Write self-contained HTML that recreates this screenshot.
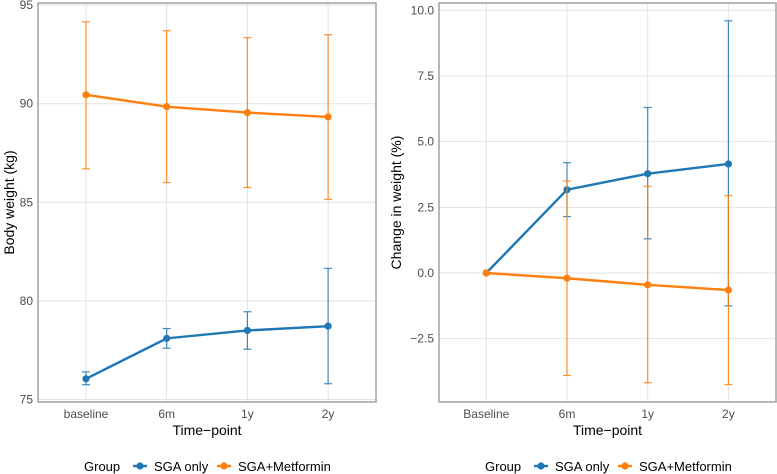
<!DOCTYPE html>
<html><head><meta charset="utf-8"><style>
body{margin:0;background:#fff;}
svg{display:block;font-family:"Liberation Sans",sans-serif;}
</style></head><body>
<svg id="c" width="777" height="474"></svg>
<script>
const categoriesL = ["baseline","6m","1y","2y"];
const categoriesR = ["Baseline","6m","1y","2y"];
const seriesNames = ["SGA only","SGA+Metformin"];
const blueL = [76.05,78.1,78.5,78.72];
const blueLHi = [76.4,78.6,79.45,81.65];
const blueLLo = [75.75,77.6,77.55,75.8];
const orangeL = [90.45,89.85,89.55,89.33];
const orangeLHi = [94.15,93.7,93.35,93.5];
const orangeLLo = [86.7,86.0,85.75,85.15];
const blueR = [0,3.17,3.78,4.15];
const blueRHi = [0,4.2,6.3,9.6];
const blueRLo = [0,2.15,1.3,-1.25];
const orangeR = [0,-0.2,-0.45,-0.65];
const orangeRHi = [0,3.5,3.3,2.95];
const orangeRLo = [0,-3.9,-4.18,-4.25];
const ticksL = [75,80,85,90,95];
const ticksLabL = ["75","80","85","90","95"];
const ticksR = [-2.5,0,2.5,5,7.5,10];
const ticksLabR = ["\u22122.5","0.0","2.5","5.0","7.5","10.0"];

const NS="http://www.w3.org/2000/svg";
const svg=document.getElementById('c');
function el(t,a,p){const e=document.createElementNS(NS,t);for(const k in a)e.setAttribute(k,a[k]);(p||svg).appendChild(e);return e;}
const BLUE="#1f77b4",ORANGE="#ff7f0e";

function panel(cfg){
  const g=el('g',{});
  
  
  const y=v=>cfg.y0+(v-cfg.v0)*cfg.k;
  const x=i=>cfg.xs+i*cfg.dx;
  cfg.ticks.forEach((t,i)=>{
    const l=el('line',{x1:cfg.L,x2:cfg.R,y1:y(t),y2:y(t),stroke:'#e3e3e3','stroke-width':1},g);
    
    
    const tx=el('text',{x:cfg.L-5,y:y(t)+4,'text-anchor':'end','font-size':12,fill:'#4d4d4d'},g);
    tx.textContent=cfg.tickLab[i];
    
    
  });
  cfg.cats.forEach((c,i)=>{
    const l=el('line',{x1:x(i),x2:x(i),y1:cfg.T,y2:cfg.B,stroke:'#e3e3e3','stroke-width':1},g);
    
    
    const tx=el('text',{x:x(i),y:418,'text-anchor':'middle','font-size':12,fill:'#4d4d4d'},g);
    tx.textContent=c;
    
    
  });
  const fr=el('rect',{x:cfg.L,y:cfg.T,width:cfg.R-cfg.L,height:cfg.B-cfg.T,fill:'none',stroke:'#a6a6a6','stroke-width':1.6},g);
  
  
  cfg.series.forEach(s=>{
    s.m.forEach((v,i)=>{
      if(s.hi[i]===s.lo[i]) return;
      const eg=el('g',{stroke:s.c,'stroke-width':1.2,opacity:0.85},g);
      
      
      el('line',{x1:x(i),x2:x(i),y1:y(s.hi[i]),y2:y(s.lo[i])},eg);
      el('line',{x1:x(i)-4,x2:x(i)+4,y1:y(s.hi[i]),y2:y(s.hi[i])},eg);
      el('line',{x1:x(i)-4,x2:x(i)+4,y1:y(s.lo[i]),y2:y(s.lo[i])},eg);
    });
    const pl=el('polyline',{points:s.m.map((v,i)=>x(i)+','+y(v)).join(' '),fill:'none',stroke:s.c,'stroke-width':2.4},g);
    
    
    s.m.forEach((v,i)=>{
      const p=el('circle',{cx:x(i),cy:y(v),r:3.6,fill:s.c},g);
      
      
    });
  });
  const xt=el('text',{x:(cfg.L+cfg.R)/2,y:435,'text-anchor':'middle','font-size':14,fill:'#000'},g);
  xt.textContent='Time\u2212point';
  
  
  const cy=(cfg.T+cfg.B)/2;
  const yt=el('text',{x:cfg.ylx,y:cy,'text-anchor':'middle','font-size':14,fill:'#000',transform:`rotate(-90 ${cfg.ylx} ${cy})`},g);
  yt.textContent=cfg.ylab;
  
  
  const lg=el('g',{},g);
  
  
  const ox=cfg.lgx;
  const gt=el('text',{x:ox,y:471,'font-size':13,fill:'#000'},lg);gt.textContent='Group';
  [[BLUE,seriesNames[0],ox+49,ox+70],[ORANGE,seriesNames[1],ox+133,ox+154]].forEach(([c,n,kx,tx])=>{
    const e=el('g',{},lg);
    
    
    el('line',{x1:kx,x2:kx+14,y1:466,y2:466,stroke:c,'stroke-width':2.4},e);
    el('circle',{cx:kx+7,cy:466,r:3.6,fill:c},e);
    const t=el('text',{x:tx,y:471,'font-size':13,fill:'#000'},e);t.textContent=n;
  });
}
panel({name:'body-weight-panel',L:38,R:376,T:3,B:402,v0:75,y0:399.5,k:-19.72,xs:86,dx:80.7,
  cats:categoriesL,ticks:ticksL,tickLab:ticksLabL,ylab:'Body weight (kg)',ylx:14,lgx:84,
  series:[{m:orangeL,hi:orangeLHi,lo:orangeLLo,c:ORANGE},{m:blueL,hi:blueLHi,lo:blueLLo,c:BLUE}]});
panel({name:'change-weight-panel',L:439,R:776,T:3,B:402,v0:0,y0:273,k:-26.27,xs:486.3,dx:80.7,
  cats:categoriesR,ticks:ticksR,tickLab:ticksLabR,ylab:'Change in weight (%)',ylx:401,lgx:485,
  series:[{m:blueR,hi:blueRHi,lo:blueRLo,c:BLUE},{m:orangeR,hi:orangeRHi,lo:orangeRLo,c:ORANGE}]});
</script>
</body></html>
